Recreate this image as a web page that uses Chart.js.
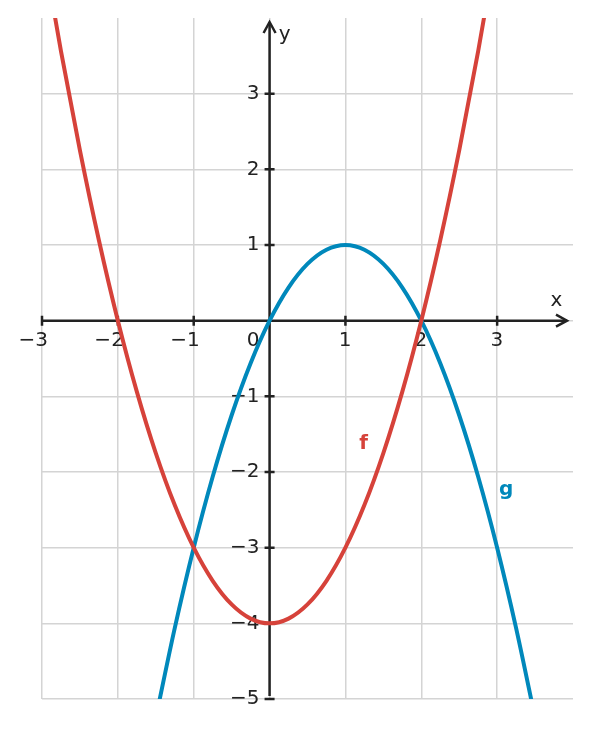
<!DOCTYPE html>
<html>
<head>
<meta charset="utf-8">
<script src="https://cdn.jsdelivr.net/npm/chart.js@4"></script>
<style>
  body { margin: 0; background: #fff; }
  #wrap { width: 590px; height: 729px; }
</style>
</head>
<body>
<div id="wrap"><canvas id="myChart"></canvas></div>
<script>
// Points
const fX = [-3, -2.75, -2.5, -2.25, -2, -1.75, -1.5, -1.25, -1, -0.75, -0.5, -0.25, 0,
            0.25, 0.5, 0.75, 1, 1.25, 1.5, 1.75, 2, 2.25, 2.5, 2.75, 3];
const fY = [5, 3.5625, 2.25, 1.0625, 0, -0.9375, -1.75, -2.4375, -3, -3.4375, -3.75, -3.9375, -4,
            -3.9375, -3.75, -3.4375, -3, -2.4375, -1.75, -0.9375, 0, 1.0625, 2.25, 3.5625, 5];
const gX = [-1.5, -1.25, -1, -0.75, -0.5, -0.25, 0, 0.25, 0.5, 0.75, 1, 1.25, 1.5,
            1.75, 2, 2.25, 2.5, 2.75, 3, 3.25, 3.5];
const gY = [-5.25, -4.0625, -3, -2.0625, -1.25, -0.5625, 0, 0.4375, 0.75, 0.9375, 1, 0.9375, 0.75,
            0.4375, 0, -0.5625, -1.25, -2.0625, -3, -4.0625, -5.25];
const xTicks = [-3, -2, -1, 0, 1, 2, 3];
const yTicks = [-5, -4, -3, -2, -1, 1, 2, 3];

const red = '#d6423a';
const blue = '#0088bb';
const ink = '#222222';
const font = '20px "DejaVu Sans"';

// Draw the axes through the origin, with arrows, ticks and labels
const axesPlugin = {
    id: 'axes',
    beforeDatasetsDraw(chart) {
        const ctx = chart.ctx;
        const xs = chart.scales.x, ys = chart.scales.y;
        const x0 = xs.getPixelForValue(0), y0 = ys.getPixelForValue(0);
        const left = xs.getPixelForValue(-3), right = xs.getPixelForValue(4) - 6;
        const bottom = ys.getPixelForValue(-5), top = ys.getPixelForValue(4) + 4;
        ctx.save();
        ctx.strokeStyle = ink;
        ctx.lineWidth = 2.5;
        ctx.lineCap = 'butt';
        ctx.beginPath();
        ctx.moveTo(left, y0); ctx.lineTo(right, y0);
        ctx.moveTo(x0, bottom - 3); ctx.lineTo(x0, top);
        ctx.stroke();
        // arrowheads
        ctx.lineJoin = 'miter';
        ctx.beginPath();
        ctx.moveTo(right - 11, y0 - 6); ctx.lineTo(right, y0); ctx.lineTo(right - 11, y0 + 6);
        ctx.moveTo(x0 - 6, top + 11); ctx.lineTo(x0, top); ctx.lineTo(x0 + 6, top + 11);
        ctx.stroke();
        // tick marks
        ctx.beginPath();
        xTicks.forEach(v => {
            if (v === 0) return;
            const p = xs.getPixelForValue(v);
            ctx.moveTo(p, y0 - 5); ctx.lineTo(p, y0 + 5);
        });
        yTicks.forEach(v => {
            const p = ys.getPixelForValue(v);
            ctx.moveTo(x0 - 5, p); ctx.lineTo(x0 + 5, p);
        });
        ctx.stroke();
        // labels
        ctx.fillStyle = ink;
        ctx.font = font;
        ctx.textBaseline = 'middle';
        ctx.textAlign = 'right';
        xTicks.forEach(v => {
            const p = xs.getPixelForValue(v);
            const txt = v < 0 ? '\u2212' + Math.abs(v) : String(v);
            if (v === 0) {
                ctx.fillText(txt, p - 10, y0 + 20);
            } else {
                ctx.fillText(txt, p + 6, y0 + 20);
            }
        });
        yTicks.forEach(v => {
            const p = ys.getPixelForValue(v);
            const txt = v < 0 ? '\u2212' + Math.abs(v) : String(v);
            ctx.fillText(txt, x0 - 10, p);
        });
        ctx.textAlign = 'center';
        ctx.fillText('x', xs.getPixelForValue(3.78), y0 - 20);
        ctx.fillText('y', x0 + 15, ys.getPixelForValue(3.78));
        ctx.font = 'bold 20px "DejaVu Sans"';
        ctx.fillStyle = red;
        ctx.fillText('f', xs.getPixelForValue(1.24), ys.getPixelForValue(-1.63));
        ctx.fillStyle = blue;
        ctx.fillText('g', xs.getPixelForValue(3.12), ys.getPixelForValue(-2.24));
        ctx.restore();
    }
};

const ctx = document.getElementById('myChart').getContext('2d');
const chart = new Chart(ctx, {
    type: 'line',
    data: {
        datasets: [{
            label: 'f',
            data: fX.map((x, i) => ({x: x, y: fY[i]})),
            borderColor: red,
            borderWidth: 4,
            pointRadius: 0,
            cubicInterpolationMode: 'monotone'
        }, {
            label: 'g',
            data: gX.map((x, i) => ({x: x, y: gY[i]})),
            borderColor: blue,
            borderWidth: 4,
            pointRadius: 0,
            cubicInterpolationMode: 'monotone'
        }]
    },
    options: {
        responsive: true,
        maintainAspectRatio: false,
        animation: false,
        layout: { padding: { left: 42, right: 17, top: 18, bottom: 30 } },
        plugins: { legend: { display: false }, tooltip: { enabled: false } },
        scales: {
            x: {
                type: 'linear', min: -3, max: 4,
                ticks: { display: false, stepSize: 1 },
                border: { display: false },
                grid: {
                    drawTicks: false, lineWidth: 1.5,
                    color: c => c.tick && c.tick.value === 4 ? 'rgba(0,0,0,0)' : '#d4d4d4'
                },
                afterFit: s => { s.height = 0; }
            },
            y: {
                type: 'linear', min: -5, max: 4,
                ticks: { display: false, stepSize: 1 },
                border: { display: false },
                grid: {
                    drawTicks: false, lineWidth: 1.5,
                    color: c => c.tick && c.tick.value === 4 ? 'rgba(0,0,0,0)' : '#d4d4d4'
                },
                afterFit: s => { s.width = 0; }
            }
        }
    },
    plugins: [axesPlugin]
});
</script>
</body>
</html>
